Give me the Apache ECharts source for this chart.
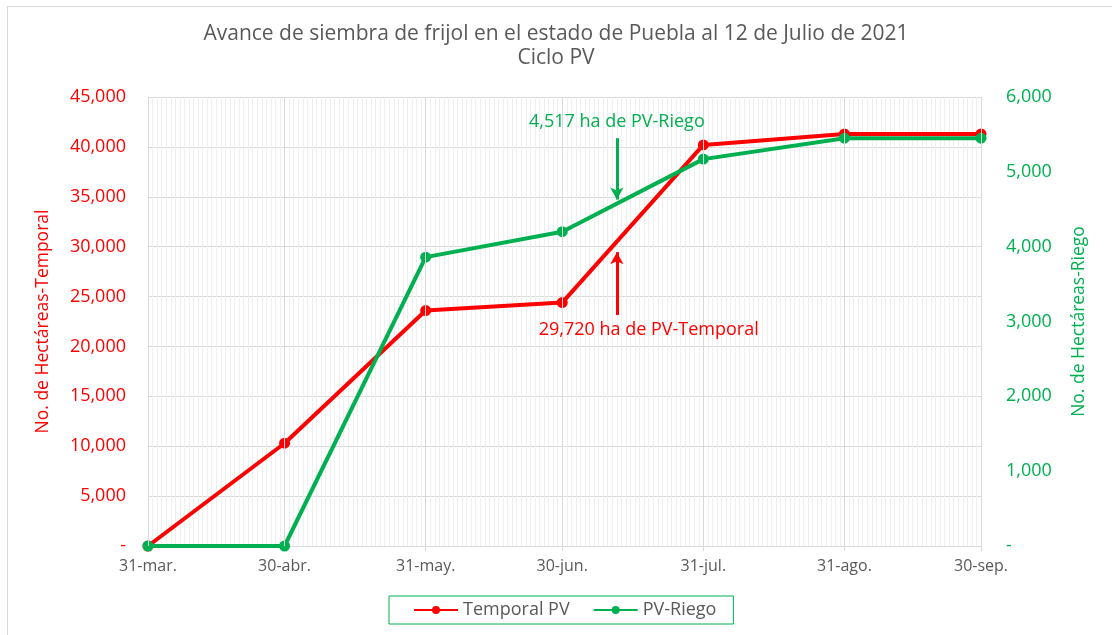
<!DOCTYPE html>
<html>
<head>
<meta charset="utf-8">
<script src="https://cdn.jsdelivr.net/npm/echarts@6/dist/echarts.min.js"></script>
<style>
  html, body { margin: 0; padding: 0; background: #ffffff; overflow: hidden; }
  #frame { position: absolute; left: 7px; top: 6px; width: 1300px; height: 800px; border: 1px solid #d9d9d9; box-sizing: border-box; }
  #chart { position: absolute; left: 0; top: 0; width: 1112px; height: 635px; }
</style>
</head>
<body>
<div id="frame"></div>
<div id="chart"></div>
<script>
// ---- Data ----
const fechas = ['2021-03-31', '2021-04-30', '2021-05-31', '2021-06-30', '2021-07-31', '2021-08-31', '2021-09-30'];
const etiquetasX = ['31-mar.', '30-abr.', '31-may.', '30-jun.', '31-jul.', '31-ago.', '30-sep.'];
const temporalPV = [0, 10300, 23600, 24400, 40200, 41300, 41300];
const pvRiego = [0, 0, 3860, 4200, 5170, 5450, 5450];
const nombresSeries = ['Temporal PV', 'PV-Riego'];
const titulo = 'Avance de siembra de frijol en el estado de Puebla al 12 de Julio de 2021\nCiclo PV';
const nombreEjeIzq = 'No. de Hectáreas-Temporal';
const nombreEjeDer = 'No. de Hectáreas-Riego';
// annotations: [date, from value, to value]
const flechaRiego = ['2021-07-12', 5450, 4630];
const flechaTemporal = ['2021-07-12', 23150, 29450];
const textoRiego = ['2021-07-12', 5670, '4,517 ha de PV-Riego'];
const textoTemporal = ['2021-07-19', 21650, '29,720 ha de PV-Temporal'];

const ROJO = '#FF0000', VERDE = '#00B050', GRIS = '#595959', REJILLA = '#d9d9d9';
const FONT = 'Open Sans';

function dia(s) { return (Date.parse(s) - Date.parse(fechas[0])) / 86400000; }
const diasX = fechas.map(dia);
const ultimoDia = diasX[diasX.length - 1];
const etiquetaPorDia = {};
diasX.forEach((d, i) => { etiquetaPorDia[d] = etiquetasX[i]; });
const fmt = v => v === 0 ? '-' : v.toLocaleString('en-US');

const chart = echarts.init(document.getElementById('chart'), null, { renderer: 'canvas' });
chart.setOption({
  animation: false,
  textStyle: { fontFamily: FONT },
  title: {
    text: titulo, left: 'center', top: 17,
    textStyle: { fontFamily: FONT, fontSize: 21, fontWeight: 'normal', color: GRIS, lineHeight: 24 }
  },
  legend: {
    data: nombresSeries, bottom: 11, left: 389,
    borderColor: VERDE, borderWidth: 1, padding: [5, 17, 5, 24],
    itemWidth: 44, itemHeight: 10, itemGap: 23,
    textStyle: { fontFamily: FONT, fontSize: 18, color: GRIS }
  },
  grid: { left: 148, right: 131, top: 97, bottom: 89, containLabel: false },
  xAxis: [
    {
      type: 'value', min: 0, max: ultimoDia, interval: 1, z: 2,
      axisLine: { show: true, lineStyle: { color: REJILLA } },
      axisTick: { show: true, customValues: diasX, length: 5, lineStyle: { color: REJILLA } },
      axisLabel: {
        customValues: diasX, margin: 12, color: GRIS, fontSize: 16, fontFamily: FONT,
        formatter: v => etiquetaPorDia[v] !== undefined ? etiquetaPorDia[v] : ''
      },
      splitLine: { show: true, lineStyle: { color: REJILLA, width: 1 } }
    },
    {
      type: 'value', min: 0, max: ultimoDia, interval: 1, position: 'bottom', z: 0,
      axisLine: { show: false }, axisTick: { show: false }, axisLabel: { show: false },
      splitLine: { show: true, lineStyle: { color: '#efefef', width: 1 } }
    }
  ],
  yAxis: [
    {
      type: 'value', min: 0, max: 45000, interval: 5000, position: 'left',
      name: nombreEjeIzq, nameLocation: 'middle', nameGap: 96, nameRotate: 90,
      nameTextStyle: { color: ROJO, fontSize: 17.5, fontFamily: FONT },
      axisLine: { show: false }, axisTick: { show: false },
      axisLabel: { color: ROJO, fontSize: 18, margin: 22, formatter: fmt, fontFamily: FONT },
      splitLine: { show: true, lineStyle: { color: REJILLA, width: 1 } }
    },
    {
      type: 'value', min: 0, max: 6000, interval: 1000, position: 'right',
      name: nombreEjeDer, nameLocation: 'middle', nameGap: 89, nameRotate: 90,
      nameTextStyle: { color: VERDE, fontSize: 17.5, fontFamily: FONT },
      axisLine: { show: false }, axisTick: { show: false },
      axisLabel: { color: VERDE, fontSize: 18, margin: 25, formatter: fmt, fontFamily: FONT },
      splitLine: { show: false }
    }
  ],
  series: [
    {
      type: 'line', name: '_rejilla', data: [], z: 1, silent: true, legendHoverLink: false,
      markLine: {
        silent: true, symbol: ['none', 'none'], label: { show: false },
        lineStyle: { color: REJILLA, width: 1, type: 'solid' },
        data: diasX.map(d => ({ xAxis: d }))
      }
    },
    {
      type: 'line', name: nombresSeries[0], yAxisIndex: 0, z: 3,
      data: diasX.map((d, i) => [d, temporalPV[i]]),
      symbol: 'circle', symbolSize: 11,
      lineStyle: { color: ROJO, width: 4 }, itemStyle: { color: ROJO },
      markLine: {
        silent: true, symbol: ['none', 'arrow'], symbolSize: [10, 12], label: { show: false },
        lineStyle: { color: ROJO, width: 3, type: 'solid' },
        data: [[{ coord: [dia(flechaTemporal[0]), flechaTemporal[1]] }, { coord: [dia(flechaTemporal[0]), flechaTemporal[2]] }]]
      },
      markPoint: {
        silent: true, symbol: 'circle', symbolSize: 0,
        label: { show: true, position: 'inside', color: ROJO, fontSize: 18, fontFamily: FONT, formatter: p => p.name },
        data: [{ name: textoTemporal[2], coord: [dia(textoTemporal[0]), textoTemporal[1]] }]
      }
    },
    {
      type: 'line', name: nombresSeries[1], yAxisIndex: 1, z: 4,
      data: diasX.map((d, i) => [d, pvRiego[i]]),
      symbol: 'circle', symbolSize: 11,
      lineStyle: { color: VERDE, width: 4 }, itemStyle: { color: VERDE },
      markLine: {
        silent: true, symbol: ['none', 'arrow'], symbolSize: [10, 12], label: { show: false },
        lineStyle: { color: VERDE, width: 3, type: 'solid' },
        data: [[{ coord: [dia(flechaRiego[0]), flechaRiego[1]] }, { coord: [dia(flechaRiego[0]), flechaRiego[2]] }]]
      },
      markPoint: {
        silent: true, symbol: 'circle', symbolSize: 0,
        label: { show: true, position: 'inside', color: VERDE, fontSize: 18, fontFamily: FONT, formatter: p => p.name },
        data: [{ name: textoRiego[2], coord: [dia(textoRiego[0]), textoRiego[1]] }]
      }
    }
  ]
});
</script>
</body>
</html>
